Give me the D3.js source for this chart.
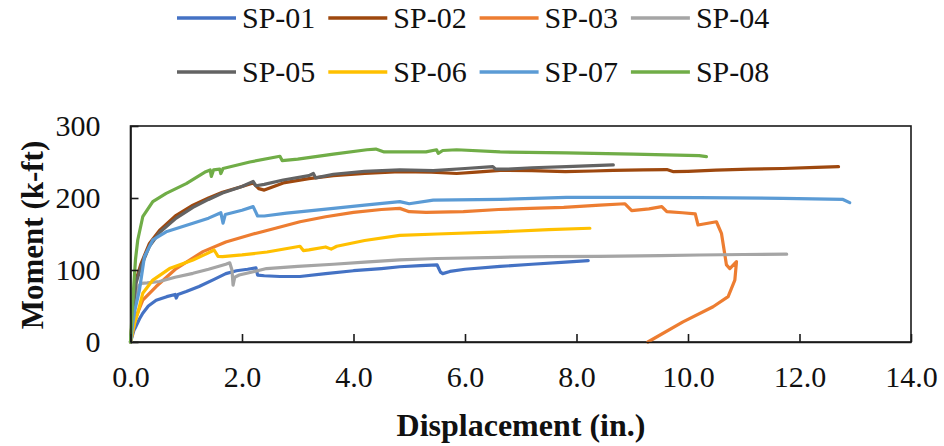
<!DOCTYPE html>
<html>
<head>
<meta charset="utf-8">
<script src="https://cdn.jsdelivr.net/npm/d3@7"></script>
<style>
  html, body { margin: 0; padding: 0; background: #fff; }
  svg, svg text { font-family: "Liberation Serif", "Times New Roman", Tinos, "DejaVu Serif", "Noto Serif", serif; }
</style>
</head>
<body>
<svg id="chart" width="944" height="446"></svg>
<script>
// ---- data (displacement in., moment k-ft) ----
const seriesNames = ["SP-01", "SP-02", "SP-03", "SP-04", "SP-05", "SP-06", "SP-07", "SP-08"];
const seriesColors = ["#4472C4", "#9E480E", "#ED7D31", "#A5A5A5", "#636363", "#FFC000", "#5B9BD5", "#70AD47"];
const xTicks = [0, 2, 4, 6, 8, 10, 12, 14];
const yTicks = [0, 100, 200, 300];

const sp01 = [[0,0],[0.03,8],[0.06,16],[0.1,22],[0.16,32],[0.22,40],[0.32,50],[0.46,58],[0.65,63],[0.8,66],[0.82,61],[0.85,66],[1.0,70],[1.23,77],[1.5,87],[1.71,95],[1.9,99],[2.1,101],[2.25,103],[2.28,93],[2.4,92],[2.68,91],[3.04,91],[3.5,95],[4.0,99],[4.5,102],[4.83,104.5],[5.2,106],[5.5,107],[5.56,97],[5.6,95],[5.73,98],[6.0,101],[6.63,105],[7.2,108],[7.8,111],[8.21,113]];
const sp02 = [[0,0],[0.03,30],[0.06,60],[0.1,86],[0.19,109],[0.34,137],[0.52,155],[0.82,176],[1.12,190],[1.4,200],[1.65,208],[2.0,216],[2.2,221],[2.3,213],[2.4,211],[2.74,221],[3.2,227],[3.64,231],[4.2,234],[4.83,236.5],[5.4,236],[5.85,234],[6.2,236],[6.63,238.5],[7.2,238],[7.8,236.5],[8.3,237.5],[8.66,238.5],[9.2,239],[9.62,239.5],[9.74,236.5],[10.0,237],[10.5,238.6],[11.1,240],[11.7,241],[12.3,242.5],[12.7,243.5]];
const sp03 = [[0,0],[0.03,10],[0.06,22],[0.1,35],[0.22,58],[0.46,77],[0.82,102],[1.3,125.5],[1.71,139],[2.2,150],[2.6,158],[3.04,167],[3.5,174],[4.0,180],[4.5,184],[4.83,185.6],[5.0,181],[5.3,180],[5.97,181],[6.6,184],[7.17,185.6],[7.77,187],[8.42,190],[8.87,192],[8.99,182.5],[9.3,185],[9.53,188],[9.62,181],[9.9,179.5],[10.13,178],[10.18,162.5],[10.51,167],[10.6,151],[10.69,107],[10.75,102],[10.87,111.5],[10.84,86],[10.72,63],[10.45,49],[9.91,28],[9.28,0]];
const sp04 = [[0,0],[0.05,30],[0.1,60],[0.15,78],[0.19,81.5],[0.3,82],[0.52,84],[0.8,90],[1.12,95.4],[1.4,101],[1.71,108],[1.78,110],[1.82,100],[1.84,79],[1.87,90],[1.95,93],[2.44,102],[3.0,105],[3.64,108],[4.2,111],[4.83,114],[5.5,116],[6.63,117.6],[7.5,118.5],[8.4,119],[9.5,120],[10.2,120.8],[11.0,121.5],[11.77,122]];
const sp05 = [[0,0],[0.03,28],[0.06,56],[0.1,82],[0.19,105],[0.34,133],[0.52,152],[0.82,172],[1.12,187],[1.4,198],[1.65,207],[2.0,216],[2.14,221],[2.2,223],[2.25,217],[2.4,219],[2.74,225],[3.2,231],[3.28,234],[3.32,228],[3.64,233],[4.2,237],[4.83,239],[5.43,238],[6.0,241],[6.5,243.5],[6.55,240],[6.75,240],[7.2,242],[7.82,243.5],[8.3,245],[8.66,246]];
const sp06 = [[0,0],[0.04,15],[0.08,28],[0.13,40],[0.22,67.6],[0.4,86],[0.7,102],[1.12,114],[1.35,122],[1.5,127.8],[1.57,119],[1.65,118.5],[2.0,121],[2.45,125],[3.04,133],[3.1,127],[3.2,128],[3.5,132],[3.6,129],[3.7,133],[4.2,141],[4.83,148],[5.5,150],[6.63,153],[7.5,156],[8.24,158]];
const sp07 = [[0,0],[0.04,25],[0.08,45],[0.12,58],[0.16,72],[0.25,118.5],[0.4,141.7],[0.64,153],[1.12,165],[1.4,172],[1.62,179.6],[1.66,165],[1.7,177],[2.0,183],[2.2,188],[2.28,175],[2.4,175],[2.8,179],[3.2,182],[3.64,185.6],[4.2,190],[4.83,195],[5.0,192],[5.43,197],[6.63,198],[7.82,201],[9.0,201],[10.2,200.6],[11.7,199.5],[12.78,198],[12.9,193.5]];
const sp08 = [[0,0],[0.03,40],[0.06,80],[0.09,115],[0.13,141.7],[0.22,174],[0.4,195],[0.64,206.5],[1.0,220],[1.35,236.5],[1.43,239],[1.45,230],[1.49,239],[1.6,240],[1.62,234],[1.66,241],[2.14,250],[2.68,258],[2.72,252],[3.0,254],[3.64,261],[4.24,267],[4.4,268],[4.55,264],[4.83,264],[5.3,264],[5.49,267],[5.52,262],[5.6,266],[5.85,267],[6.63,264],[7.82,262.6],[9.02,261],[10.2,258.8],[10.33,257.4]];

const seriesData = [sp01, sp02, sp03, sp04, sp05, sp06, sp07, sp08];

const FONT = '"Liberation Serif", "Times New Roman", Tinos, "DejaVu Serif", "Noto Serif", serif';

// ---- layout ----
const svg = d3.select("#chart");
const plot = { left: 130.5, right: 911, top: 126, bottom: 342 };

const x = d3.scaleLinear().domain([0, 14]).range([plot.left, plot.right]);
const y = d3.scaleLinear().domain([0, 300]).range([plot.bottom, plot.top]);

// plot frame
svg.append("rect")
  .attr("x", plot.left).attr("y", plot.top)
  .attr("width", plot.right - plot.left).attr("height", plot.bottom - plot.top)
  .attr("fill", "none").attr("stroke", "#1a1a1a").attr("stroke-width", 1.6);

// series lines, drawn in series order (later series on top)
const line = d3.line().x(d => x(d[0])).y(d => y(d[1]));
svg.append("g").selectAll("path")
  .data(seriesData.map((pts, i) => ({ pts, i })))
  .join("path")
  .attr("d", d => line(d.pts))
  .attr("fill", "none")
  .attr("stroke", d => seriesColors[d.i])
  .attr("stroke-width", 3.2)
  .attr("stroke-linejoin", "round")
  .attr("stroke-linecap", "round");

// axes (inward ticks)
const xAxis = d3.axisBottom(x).tickValues(xTicks).tickSizeInner(-8).tickSizeOuter(0)
  .tickPadding(24).tickFormat(d3.format(".1f"));
const gx = svg.append("g").attr("transform", `translate(0,${plot.bottom})`).call(xAxis)
  .attr("font-family", FONT).attr("font-size", 30);
gx.select(".domain").attr("stroke", "#1a1a1a").attr("stroke-width", 1.6);
gx.selectAll(".tick line").attr("stroke", "#1a1a1a").attr("stroke-width", 1.6);
gx.selectAll(".tick text").style("font-family", FONT).style("font-size", "30px").attr("fill", "#111");

const yAxis = d3.axisLeft(y).tickValues(yTicks).tickSizeInner(-8).tickSizeOuter(0)
  .tickPadding(30).tickFormat(d3.format("d"));
const gy = svg.append("g").attr("transform", `translate(${plot.left},0)`).call(yAxis)
  .attr("font-family", FONT).attr("font-size", 30);
gy.select(".domain").attr("stroke", "#1a1a1a").attr("stroke-width", 1.6);
gy.selectAll(".tick line").attr("stroke", "#1a1a1a").attr("stroke-width", 1.6);
gy.selectAll(".tick text").style("font-family", FONT).style("font-size", "30px").attr("fill", "#111");

// axis titles
svg.append("text")
  .attr("x", 521).attr("y", 436)
  .attr("text-anchor", "middle")
  .style("font-family", FONT)
  .attr("font-size", 32).attr("font-weight", "bold").attr("fill", "#111")
  .text("Displacement (in.)");

svg.append("text")
  .attr("transform", `translate(43,${(plot.top + plot.bottom) / 2 + 1}) rotate(-90)`)
  .attr("text-anchor", "middle")
  .style("font-family", FONT)
  .attr("font-size", 31).attr("font-weight", "bold").attr("fill", "#111")
  .text("Moment (k-ft)");

// legend: two rows of four
const legend = svg.append("g");
const legItems = legend.selectAll("g")
  .data(seriesNames.map((n, i) => ({ name: n, color: seriesColors[i], i })))
  .join("g")
  .attr("transform", d => `translate(${177 + (d.i % 4) * 151.3},${d.i < 4 ? 18 : 72})`);
legItems.append("line")
  .attr("x1", 0).attr("x2", 59).attr("y1", 0).attr("y2", 0)
  .attr("stroke", d => d.color).attr("stroke-width", 3.5);
legItems.append("text")
  .attr("x", 65).attr("y", 10)
  .style("font-family", FONT)
  .attr("font-size", 30).attr("fill", "#111")
  .text(d => d.name);
</script>
</body>
</html>
